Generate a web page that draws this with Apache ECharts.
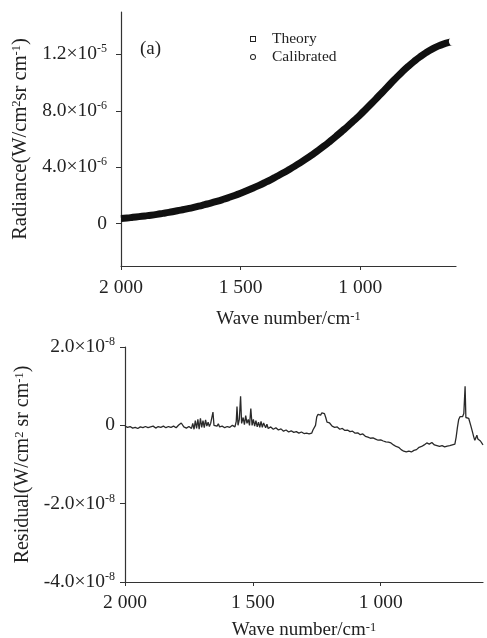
<!DOCTYPE html>
<html>
<head>
<meta charset="utf-8">
<script src="https://cdn.jsdelivr.net/npm/echarts@6/dist/echarts.min.js"></script>
<style>html,body{margin:0;padding:0;background:#fff;}#c{width:487px;height:638px;}</style>
</head>
<body>
<div id="c"></div>
<script>
// ---- Top panel: radiance (units of 1e-6 W/cm2 sr cm-1) ----
var radianceWn = [2000,1975,1950,1925,1900,1875,1850,1825,1800,1775,1750,1725,1700,1675,1650,1625,1600,1575,1550,1525,1500,1475,1450,1425,1400,1375,1350,1325,1300,1275,1250,1225,1200,1175,1150,1125,1100,1075,1050,1025,1000,975,950,925,900,875,850,825,800,775,750,725,700,675,650,625,610];
var theoryVals = [0.36,0.40,0.45,0.50,0.55,0.60,0.66,0.73,0.80,0.88,0.96,1.05,1.14,1.24,1.35,1.46,1.58,1.71,1.85,2.00,2.16,2.33,2.51,2.70,2.90,3.11,3.34,3.57,3.81,4.06,4.33,4.61,4.90,5.20,5.52,5.86,6.21,6.57,6.94,7.33,7.72,8.14,8.57,9.01,9.45,9.90,10.33,10.75,11.14,11.50,11.83,12.12,12.37,12.58,12.74,12.86,12.92];
var calibratedVals = [0.36,0.40,0.45,0.50,0.55,0.60,0.66,0.73,0.80,0.88,0.96,1.05,1.14,1.24,1.35,1.46,1.58,1.71,1.85,2.00,2.16,2.33,2.51,2.70,2.90,3.11,3.34,3.57,3.81,4.06,4.33,4.61,4.90,5.20,5.52,5.86,6.21,6.57,6.94,7.33,7.72,8.14,8.57,9.01,9.45,9.90,10.33,10.75,11.14,11.50,11.83,12.12,12.37,12.58,12.74,12.86,12.92];

// ---- Bottom panel: residual (units of 1e-8) ----
var residualWn = [2000,1990,1980,1970,1960,1950,1940,1930,1920,1910,1900,1890,1880,1870,1860,1850,1840,1830,1820,1810,1800,1790,1780,1770,1760,1750,1740,1735,1730,1725,1720,1715,1710,1705,1700,1695,1690,1685,1680,1675,1670,1665,1660,1656,1652,1645,1640,1635,1630,1620,1610,1600,1590,1580,1570,1565,1562,1558,1553,1548,1544,1538,1533,1528,1523,1518,1513,1508,1503,1498,1493,1488,1483,1478,1473,1468,1463,1458,1450,1445,1440,1430,1420,1410,1400,1390,1380,1370,1360,1350,1340,1330,1320,1310,1300,1290,1280,1270,1265,1260,1255,1250,1245,1240,1235,1230,1225,1220,1215,1210,1200,1190,1180,1170,1160,1150,1140,1130,1120,1110,1100,1090,1080,1070,1060,1050,1040,1030,1020,1010,1000,990,980,970,960,950,940,930,920,910,900,890,880,870,860,850,840,830,820,810,800,790,780,770,760,750,740,730,720,710,705,700,695,690,685,680,675,670,667,662,656,652,648,642,636,632,628,624,620,616,610,604,600];
var residualVals = [-0.02,-0.05,-0.03,-0.07,-0.05,-0.08,-0.04,-0.06,-0.03,-0.06,-0.04,-0.02,-0.07,-0.03,-0.05,-0.02,-0.06,-0.03,-0.05,-0.02,-0.06,0.01,0.06,-0.04,-0.07,-0.03,-0.08,0.05,-0.10,0.12,-0.08,0.15,-0.10,0.18,-0.05,0.12,-0.06,0.14,-0.02,0.08,-0.03,0.05,0.02,0.34,0.00,0.05,-0.02,0.04,-0.04,-0.02,-0.06,-0.03,-0.05,0.00,-0.04,0.10,0.48,0.00,0.15,0.74,0.05,0.20,0.02,0.25,0.05,0.15,0.00,0.43,0.00,0.15,-0.02,0.12,-0.04,0.08,-0.05,0.10,-0.05,0.06,-0.06,0.03,-0.08,-0.04,-0.10,-0.06,-0.12,-0.09,-0.15,-0.12,-0.17,-0.14,-0.18,-0.16,-0.20,-0.17,-0.21,-0.20,-0.22,-0.20,-0.12,-0.14,0.00,0.22,0.28,0.30,0.26,0.32,0.28,0.30,0.20,0.08,0.06,-0.02,-0.05,-0.04,-0.10,-0.08,-0.13,-0.12,-0.16,-0.15,-0.20,-0.19,-0.24,-0.22,-0.28,-0.30,-0.33,-0.32,-0.35,-0.38,-0.37,-0.40,-0.42,-0.43,-0.45,-0.50,-0.54,-0.56,-0.62,-0.66,-0.68,-0.66,-0.68,-0.64,-0.62,-0.56,-0.54,-0.50,-0.45,-0.48,-0.44,-0.50,-0.52,-0.54,-0.52,-0.55,-0.53,-0.52,-0.50,-0.48,-0.30,-0.05,0.15,0.22,0.24,0.22,0.30,1.00,0.20,0.20,0.18,0.20,0.00,-0.15,-0.30,-0.38,-0.32,-0.25,-0.35,-0.30,-0.40,-0.45,-0.50];

// ---- Tick values and labels ----
var xTickValues = [2000, 1500, 1000];
var xTickLabels = ['2 000', '1 500', '1 000'];
var topYTickValues = [0, 4e-6, 8e-6, 1.2e-5];
var topYTickMant = ['0', '4.0×10', '8.0×10', '1.2×10'];
var topYTickExp = ['', '-6', '-6', '-5'];
var botYTickValues = [-4e-8, -2e-8, 0, 2e-8];
var botYTickMant = ['-4.0×10', '-2.0×10', '0', '2.0×10'];
var botYTickExp = ['-8', '-8', '', '-8'];

var FONT = 'Liberation Serif';
var TXT = '#222';
var AX = '#333';
var SQUARE_ICON = 'path://M0,0H10V10H0Z M1.6,1.6V8.4H8.4V1.6Z';
var CIRCLE_ICON = 'path://M5,0A5,5 0 1,1 5,10A5,5 0 1,1 5,0Z M5,1.6A3.4,3.4 0 1,0 5,8.4A3.4,3.4 0 1,0 5,1.6Z';

function pairs(xs, ys, scale) {
  return xs.map(function (x, i) { return [x, ys[i] * scale]; });
}
function labelFmt(vals, mant, exp) {
  return function (v) {
    for (var i = 0; i < vals.length; i++) {
      if (Math.abs(v - vals[i]) <= Math.abs(vals[i]) * 1e-6 + 1e-20) {
        return exp[i] ? '{b|' + mant[i] + '}{s|' + exp[i] + '}' : '{b|' + mant[i] + '}';
      }
    }
    return '';
  };
}
function xFmt(v) {
  var i = xTickValues.indexOf(Math.round(v));
  return i >= 0 ? xTickLabels[i] : '';
}
var richTick = {
  b: { fontFamily: FONT, fontSize: 19.5, lineHeight: 22, color: TXT },
  s: { fontFamily: FONT, fontSize: 12, lineHeight: 12, color: TXT, verticalAlign: 'top' }
};
var richName = {
  s: { fontFamily: FONT, fontSize: 12.5, lineHeight: 12, color: TXT, verticalAlign: 'top' }
};

var theoryData = pairs(radianceWn, theoryVals, 1e-6);
var calData = pairs(radianceWn, calibratedVals, 1e-6).map(function (p, i, arr) {
  if (i === arr.length - 1) return { value: p, symbol: 'emptyCircle', symbolSize: 7.5 };
  return { value: p, symbol: 'none' };
});
var residualData = pairs(residualWn, residualVals, 1e-8);

function xAxisCfg(gridIndex, nameGap, margin) {
  return {
    type: 'value', gridIndex: gridIndex, min: 600, max: 2000, inverse: true,
    name: 'Wave number/cm{s|-1}', nameLocation: 'middle', nameGap: nameGap,
    nameTextStyle: { fontFamily: FONT, fontSize: 19, color: TXT, rich: richName },
    axisLine: { show: true, onZero: false, lineStyle: { color: AX, width: 1.2 } },
    axisTick: { show: true, inside: false, length: 4, customValues: xTickValues, lineStyle: { color: AX } },
    axisLabel: { customValues: xTickValues, formatter: xFmt, margin: margin, fontFamily: FONT, fontSize: 19.5, color: TXT },
    splitLine: { show: false }
  };
}

var option = {
  animation: false,
  backgroundColor: '#fff',
  grid: [
    { left: 121, top: 12, right: 31, bottom: 372, outerBoundsMode: 'none', containLabel: false },
    { left: 125, top: 347, right: 4, bottom: 56, outerBoundsMode: 'none', containLabel: false }
  ],
  legend: {
    orient: 'vertical', left: 250, top: 30.5, padding: 0, itemWidth: 6, itemHeight: 6, itemGap: 1,
    selectedMode: false,
    data: [{ name: 'Theory', icon: SQUARE_ICON }, { name: 'Calibrated', icon: CIRCLE_ICON }],
    textStyle: { fontFamily: FONT, fontSize: 15.5, lineHeight: 17, color: TXT, padding: [0, 0, 0, 11] },
    itemStyle: { color: '#222', borderWidth: 0 },
    lineStyle: { opacity: 0 }
  },
  xAxis: [xAxisCfg(0, 44, 12), xAxisCfg(1, 39, 11)],
  yAxis: [
    {
      type: 'value', gridIndex: 0, min: -3e-6, max: 1.5e-5,
      name: 'Radiance(W/cm{s|2}sr cm{s|-1})', nameLocation: 'middle', nameGap: 80, nameRotate: 90,
      nameTextStyle: { fontFamily: FONT, fontSize: 20.5, color: TXT, rich: richName },
      axisLine: { show: true, lineStyle: { color: AX, width: 1.2 } },
      axisTick: { show: true, length: 5, customValues: topYTickValues, lineStyle: { color: AX } },
      axisLabel: { customValues: topYTickValues, formatter: labelFmt(topYTickValues, topYTickMant, topYTickExp), margin: 14, rich: richTick },
      splitLine: { show: false }
    },
    {
      type: 'value', gridIndex: 1, min: -4e-8, max: 2e-8, interval: 2e-8,
      name: 'Residual(W/cm{s|2} sr cm{s|-1})', nameLocation: 'middle', nameGap: 78, nameRotate: 90,
      nameTextStyle: { fontFamily: FONT, fontSize: 20, color: TXT, rich: richName },
      axisLine: { show: true, lineStyle: { color: AX, width: 1.2 } },
      axisTick: { show: true, length: 5, customValues: botYTickValues, lineStyle: { color: AX } },
      axisLabel: { customValues: botYTickValues, formatter: labelFmt(botYTickValues, botYTickMant, botYTickExp), margin: 10, rich: richTick },
      splitLine: { show: false }
    }
  ],
  graphic: [
    { type: 'text', left: 140, top: 40, style: { text: '(a)', fontFamily: FONT, fontSize: 19, fill: TXT } }
  ],
  series: [
    {
      name: 'Theory', type: 'line', xAxisIndex: 0, yAxisIndex: 0, data: theoryData,
      symbol: 'none', smooth: true, color: '#111',
      lineStyle: { color: '#111', width: 7 }, z: 2
    },
    {
      name: 'Calibrated', type: 'line', xAxisIndex: 0, yAxisIndex: 0, data: calData,
      symbol: 'none', showSymbol: true, smooth: true, color: '#111',
      itemStyle: { color: '#fff', borderColor: '#111', borderWidth: 1.3 },
      lineStyle: { color: '#111', width: 4 }, z: 3
    },
    {
      name: 'Residual', type: 'line', xAxisIndex: 1, yAxisIndex: 1, data: residualData,
      symbol: 'none', color: '#2a2a2a',
      lineStyle: { color: '#2a2a2a', width: 1.3 }
    }
  ]
};
var chart = echarts.init(document.getElementById('c'), null, { renderer: 'canvas' });
chart.setOption(option);
</script>
</body>
</html>
